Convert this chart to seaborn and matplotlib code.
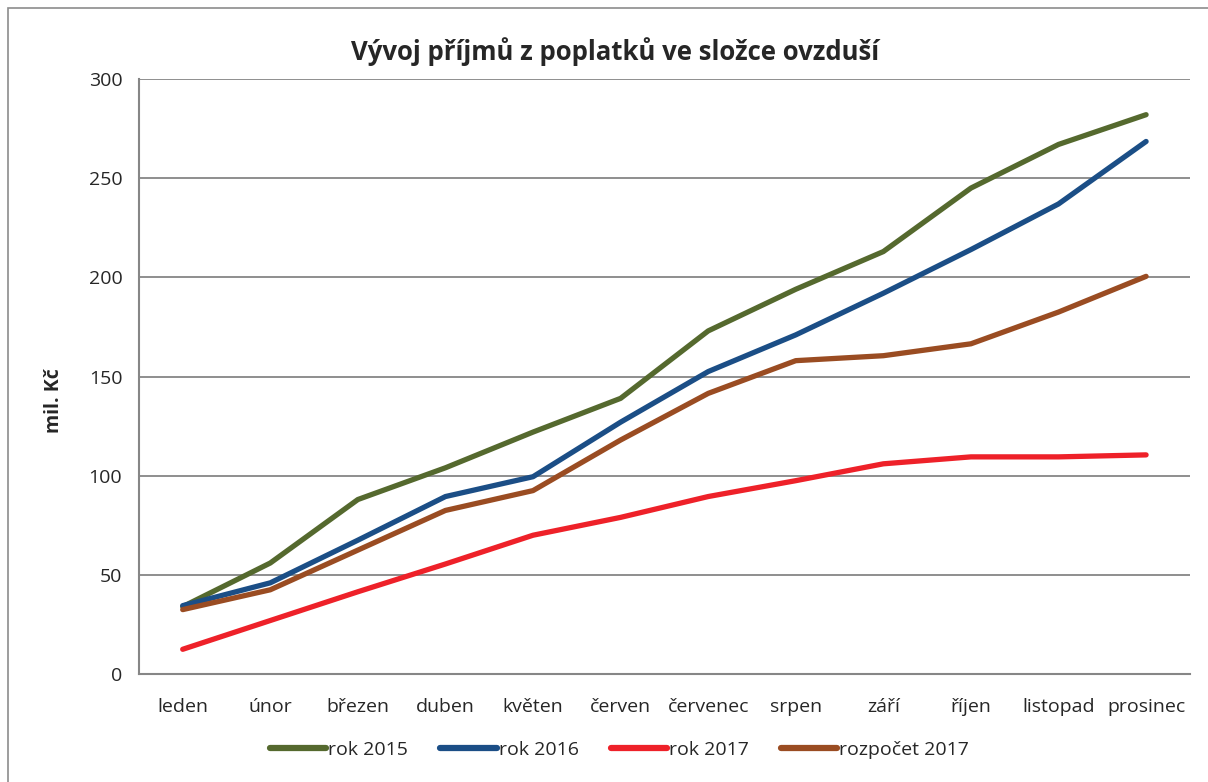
import pandas as pd
import matplotlib.pyplot as plt
import matplotlib.patches as mpatches
import seaborn as sns

# Monthly cumulative revenue (mil. Kč)
months = ["leden", "únor", "březen", "duben", "květen", "červen",
          "červenec", "srpen", "září", "říjen", "listopad", "prosinec"]
rok_2015 = [34, 56, 88, 104, 122, 139, 173, 194, 213, 245, 267, 282]
rok_2016 = [34.5, 46, 67.5, 89.5, 99.5, 127, 152.5, 171, 192, 214, 237, 268.5]
rok_2017 = [12.5, 27, 41.5, 55.5, 70, 79, 89.5, 97.5, 106, 109.5, 109.5, 110.5]
rozpocet_2017 = [32.5, 42.5, 62.5, 82.5, 92.5, 118, 141.5, 158, 160.5, 166.5, 182.5, 200.5]

series_names = ["rok 2015", "rok 2016", "rok 2017", "rozpočet 2017"]
colors = ["#55692E", "#1B4E86", "#EE2129", "#9A4C22"]

df = pd.DataFrame({
    "month_idx": list(range(len(months))) * 4,
    "value": rok_2015 + rok_2016 + rok_2017 + rozpocet_2017,
    "series": sum([[name] * len(months) for name in series_names], []),
})

sns.set_style("white")
plt.rcParams["font.family"] = ["Open Sans", "DejaVu Sans"]

fig = plt.figure(figsize=(12.08, 7.82), dpi=100)
ax = fig.add_axes([0.115, 0.138, 0.870, 0.761])

# outer chart frame
fig.patches.append(mpatches.Rectangle((8 / 1208, -0.05), 1.2, 1 - 8 / 782 + 0.05,
                                      transform=fig.transFigure, fill=False,
                                      edgecolor="#8C8C8C", linewidth=1.2))

sns.lineplot(data=df, x="month_idx", y="value", hue="series",
             hue_order=series_names, palette=colors, linewidth=3.8,
             ax=ax, legend=True)

ax.set_xlim(-0.5, len(months) - 0.5)
ax.set_ylim(0, 300)
ax.set_yticks(range(0, 301, 50))
ax.set_xticks(range(len(months)))
ax.set_xticklabels(months)
ax.set_xticks([i - 0.5 for i in range(len(months) + 1)], minor=True)
ax.tick_params(axis="x", which="major", length=0, pad=17, labelsize=14, colors="#262626")
ax.tick_params(axis="x", which="minor", length=6, width=1.2, color="#868686", direction="out")
ax.tick_params(axis="y", length=6, width=1.2, color="#868686", direction="out",
               labelsize=14, labelcolor="#262626", pad=6)

ax.yaxis.grid(True, color="#868686", linewidth=1.3)
ax.set_axisbelow(True)
for side in ["top", "right"]:
    ax.spines[side].set_visible(False)
for side in ["left", "bottom"]:
    ax.spines[side].set_color("#868686")
    ax.spines[side].set_linewidth(1.5)

ax.set_xlabel("")
ax.set_ylabel("mil. Kč", fontsize=14, fontweight="bold", color="#262626")
ax.yaxis.set_label_coords(-0.071, 0.46)
# title is centred on the whole chart, not the plot area
ax.set_title("Vývoj příjmů z poplatků ve složce ovzduší", fontsize=18.5,
             fontweight="bold", color="#262626", pad=14, x=0.453)

leg = ax.legend(loc="center", bbox_to_anchor=(0.513, 0.041),
                bbox_transform=fig.transFigure, ncol=4,
                frameon=False, fontsize=14, handlelength=2.9, handletextpad=0.1,
                columnspacing=1.65)
for line in leg.get_lines():
    line.set_linewidth(4.5)
for t in leg.get_texts():
    t.set_color("#262626")

plt.savefig("out.png", dpi=100)
plt.close()
